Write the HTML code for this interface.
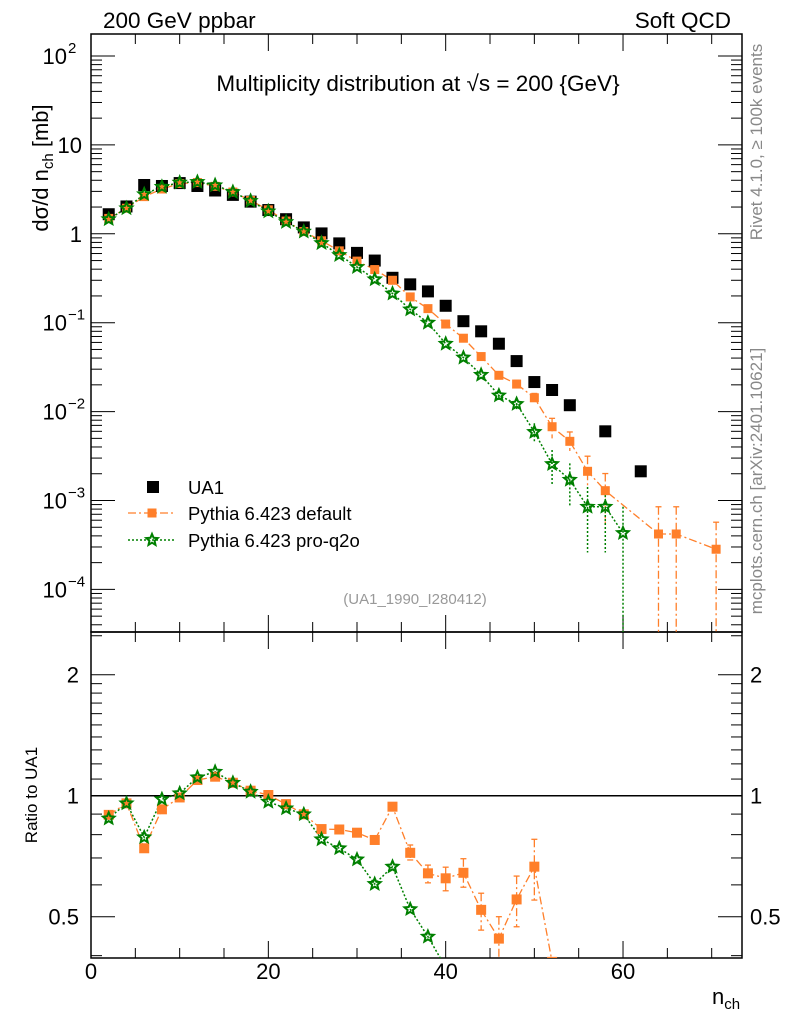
<!DOCTYPE html>
<html><head><meta charset="utf-8"><style>
body{margin:0;background:#fff;}
svg{display:block;font-family:"Liberation Sans",sans-serif;}
</style></head><body>
<svg id="c" width="786" height="1024" xmlns="http://www.w3.org/2000/svg"></svg>
<script>
const nUA1=[2,4,6,8,10,12,14,16,18,20,22,24,26,28,30,32,34,36,38,40,42,44,46,48,50,52,54,58,62];
const vUA1=[1.66,2.03,3.54,3.45,3.72,3.45,3.07,2.74,2.30,1.85,1.46,1.18,1.01,0.78,0.61,0.50,0.32,0.27,0.225,0.155,0.104,0.080,0.058,0.037,0.0215,0.0175,0.0118,0.0060,0.00213];
const nDef=[2,4,6,8,10,12,14,16,18,20,22,24,26,28,30,32,34,36,38,40,42,44,46,48,50,52,54,56,58,64,66,70.5];
const vDef=[1.49,1.94,2.62,3.19,3.68,3.77,3.42,2.95,2.37,1.86,1.39,1.06,0.834,0.643,0.493,0.396,0.30,0.195,0.144,0.0966,0.0669,0.0416,0.0256,0.0204,0.0143,0.00676,0.00463,0.00213,0.00129,0.00042,0.00042,0.000283];
const hiDef=[0,0,0,0,0,0,0,0,0,0,0,0,0,0,0,0,0,0,0,0,0,0,0.028,0.0225,0.016,0.0084,0.0059,0.00315,0.00201,0.00085,0.00085,0.00057];
const loDef=[0,0,0,0,0,0,0,0,0,0,0,0,0,0,0,0,0,0,0,0,0,0,0.0232,0.018,0.0126,0.0050,0.0036,0.00142,0.00053,0.00001,0.00001,0.00001];
const nPro=[2,4,6,8,10,12,14,16,18,20,22,24,26,28,30,32,34,36,38,40,42,44,46,48,50,52,54,56,58,60];
const vPro=[1.46,1.94,2.79,3.38,3.77,3.83,3.52,2.95,2.35,1.79,1.36,1.06,0.787,0.577,0.423,0.308,0.213,0.141,0.100,0.058,0.0405,0.0259,0.0152,0.0122,0.0059,0.00257,0.00171,0.00085,0.00085,0.00043];
const hiPro=[0,0,0,0,0,0,0,0,0,0,0,0,0,0,0,0,0,0,0,0,0,0,0.017,0.0138,0.0074,0.0037,0.00262,0.00142,0.00142,0.00085];
const loPro=[0,0,0,0,0,0,0,0,0,0,0,0,0,0,0,0,0,0,0,0,0,0,0.0135,0.0106,0.0044,0.0015,0.00085,0.00026,0.00026,0.00001];
const nRDef=[2,4,6,8,10,12,14,16,18,20,22,24,26,28,30,32,34,36,38,40,42,44,46,48,50,52];
const rDef=[0.896,0.957,0.74,0.925,0.99,1.094,1.115,1.077,1.029,1.004,0.953,0.899,0.826,0.824,0.809,0.776,0.939,0.721,0.641,0.623,0.643,0.52,0.441,0.552,0.666,0.386];
const rDefHi=[0,0,0,0,0,0,0,0,0,0,0,0,0,0,0,0,0.96,0.754,0.672,0.664,0.697,0.572,0.50,0.631,0.779,0];
const rDefLo=[0,0,0,0,0,0,0,0,0,0,0,0,0,0,0,0,0.92,0.692,0.607,0.580,0.592,0.463,0.39,0.472,0.55,0];
const nRPro=[2,4,6,8,10,12,14,16,18,20,22,24,26,28,30,32,34,36,38,40];
const rPro=[0.878,0.957,0.788,0.98,1.014,1.111,1.147,1.077,1.023,0.966,0.93,0.899,0.779,0.74,0.694,0.603,0.666,0.522,0.446,0.374];
const xTicksMajor=[0,20,40,60];
const yMainLabels=[["10","2"],["10",""],["1",""],["10","−1"],["10","−2"],["10","−3"],["10","−4"]];
const yMainExp=[2,1,0,-1,-2,-3,-4];

const S=document.getElementById('c');const NS="http://www.w3.org/2000/svg";
function el(t,a,p){const e=document.createElementNS(NS,t);for(const k in a)e.setAttribute(k,a[k]);(p||S).appendChild(e);return e;}
const L=91,R=742,T=34,MB=632,RB=958;
const X=n=>L+n*8.867;
const Y=v=>233.8-88.9*Math.log10(v);
const YR=r=>795.7-121*Math.log2(r);

const defs=el('defs',{});
const c1=el('clipPath',{id:'cm'},defs);el('rect',{x:L,y:T,width:R-L,height:MB-T},c1);
const c2=el('clipPath',{id:'cr'},defs);el('rect',{x:L,y:MB,width:R-L,height:RB-MB},c2);

let f=el('rect',{x:L,y:T,width:R-L,height:MB-T,fill:'none',stroke:'#000','stroke-width':1.5});

f=el('rect',{x:L,y:MB,width:R-L,height:RB-MB,fill:'none',stroke:'#000','stroke-width':1.5});


const gx=el('g',{stroke:'#000','stroke-width':1});

for(let n=0;n<=73;n+=5){const maj=n%20==0;const len=maj?17:10;
 for(const yb of [T,MB]) el('line',{x1:X(n),x2:X(n),y1:yb,y2:yb+len},gx);
 for(const yb of [MB,RB]) el('line',{x1:X(n),x2:X(n),y1:yb,y2:yb-len},gx);}
xTicksMajor.forEach(n=>{const t=el('text',{x:X(n),y:979,'font-size':22,'text-anchor':'middle'});t.textContent=n;
 });
const gy=el('g',{stroke:'#000','stroke-width':1});

for(let e=-5;e<=2;e++){for(let m=1;m<10;m++){const v=m*Math.pow(10,e);const y=Y(v);if(y<T||y>MB)continue;const len=m==1?24:11;
 el('line',{x1:L,x2:L+len,y1:y,y2:y},gy);el('line',{x1:R,x2:R-len,y1:y,y2:y},gy);}}
yMainExp.forEach((e,i)=>{const y=Y(Math.pow(10,e));const t=el('text',{x:e==0||e==1?82:67,y:y+8,'font-size':22,'text-anchor':'end'});
 
 t.textContent=yMainLabels[i][0];
 if(!(e==0||e==1)){const s=el('text',{x:68,y:y-3,'font-size':15,'text-anchor':'start'});s.textContent=yMainLabels[i][1];
 }});
const rt=[0.4,0.5,0.6,0.7,0.8,0.9,1,1.1,1.2,1.3,1.4,1.5,1.6,1.7,1.8,1.9,2,2.5];
rt.forEach(r=>{const y=YR(r);if(y<MB||y>RB)return;const maj=(r==0.5||r==1||r==2);const len=maj?24:11;
 el('line',{x1:L,x2:L+len,y1:y,y2:y},gy);el('line',{x1:R,x2:R-len,y1:y,y2:y},gy);
 if(maj){for(const [xx,an] of [[79,'end'],[750,'start']]){const t=el('text',{x:xx,y:y+8,'font-size':22,'text-anchor':an});t.textContent=String(r);
 }}});
let ul=el('line',{x1:L,x2:R,y1:YR(1),y2:YR(1),stroke:'#000','stroke-width':1.5});


function txt(s,a,name){const t=el('text',a);t.textContent=s;return t;}
txt('200 GeV ppbar',{x:103,y:28,'font-size':22.5},'top-left-label');
txt('Soft QCD',{x:731,y:28,'font-size':22.5,'text-anchor':'end'},'top-right-label');
txt('Multiplicity distribution at √s = 200 {GeV}',{x:418,y:91,'font-size':22.5,'text-anchor':'middle'},'plot-title');
const yl=txt('',{transform:'translate(48,168) rotate(-90)','font-size':22,'text-anchor':'middle'},'y-axis-title');
yl.innerHTML='dσ/d n<tspan font-size="15" dy="5">ch</tspan><tspan dy="-5"> [mb]</tspan>';
txt('Ratio to UA1',{transform:'translate(37,795) rotate(-90)','font-size':17,'text-anchor':'middle'},'ratio-axis-title');
const xl=txt('',{x:712,y:1004,'font-size':22},'x-axis-title');xl.innerHTML='n<tspan font-size="15" dy="5">ch</tspan>';
txt('Rivet 4.1.0, ≥ 100k events',{transform:'translate(762,142) rotate(-90)','font-size':17,fill:'#888','text-anchor':'middle'},'rivet-version-note');
txt('mcplots.cern.ch [arXiv:2401.10621]',{transform:'translate(762,481) rotate(-90)','font-size':17,fill:'#888','text-anchor':'middle'},'mcplots-note');
txt('(UA1_1990_I280412)',{x:415,y:604,'font-size':15,fill:'#999','text-anchor':'middle'},'analysis-id');

function star(cx,cy,r,g,name){const p=[];for(let i=0;i<10;i++){const a=-Math.PI/2+i*Math.PI/5;const rr=i%2?r*0.45:r;p.push((cx+rr*Math.cos(a)).toFixed(1)+','+(cy+rr*Math.sin(a)).toFixed(1));}
 const s=el('polygon',{points:p.join(' '),fill:'none',stroke:'#008000','stroke-width':2},g);}
function sq(cx,cy,h,fill,g,name){const s=el('rect',{x:cx-h,y:cy-h,width:2*h,height:2*h,fill:fill},g);}

const gm=el('g',{'clip-path':'url(#cm)'});
let pd=el('polyline',{points:nDef.map((n,i)=>X(n)+','+Y(vDef[i])).join(' '),fill:'none',stroke:'#ff7f2a','stroke-width':1.3,'stroke-dasharray':'8,3,2,3'},gm);

let pp=el('polyline',{points:nPro.map((n,i)=>X(n)+','+Y(vPro[i])).join(' '),fill:'none',stroke:'#008000','stroke-width':1.5,'stroke-dasharray':'2,2'},gm);

nDef.forEach((n,i)=>{if(hiDef[i]){const e=el('line',{x1:X(n),x2:X(n),y1:Y(hiDef[i]),y2:Y(loDef[i]),stroke:'#ff7f2a','stroke-width':1.3,'stroke-dasharray':'8,3,2,3'},gm);
 
 el('line',{x1:X(n)-3,x2:X(n)+3,y1:Y(hiDef[i]),y2:Y(hiDef[i]),stroke:'#ff7f2a','stroke-width':1.3},gm);}});
nPro.forEach((n,i)=>{if(hiPro[i]){const e=el('line',{x1:X(n),x2:X(n),y1:Y(hiPro[i]),y2:Y(loPro[i]),stroke:'#008000','stroke-width':1.5,'stroke-dasharray':'2,2'},gm);
 }});
nUA1.forEach((n,i)=>sq(X(n),Y(vUA1[i]),6,'#000',gm,'ua1-point'));
nDef.forEach((n,i)=>sq(X(n),Y(vDef[i]),4.5,'#ff7f2a',gm,'default-point'));
nPro.forEach((n,i)=>star(X(n),Y(vPro[i]),6,gm,'proq2o-point'));

const gr=el('g',{'clip-path':'url(#cr)'});
let rd=el('polyline',{points:nRDef.map((n,i)=>X(n)+','+YR(rDef[i])).join(' '),fill:'none',stroke:'#ff7f2a','stroke-width':1.3,'stroke-dasharray':'8,3,2,3'},gr);

let rp=el('polyline',{points:nRPro.map((n,i)=>X(n)+','+YR(rPro[i])).join(' '),fill:'none',stroke:'#008000','stroke-width':1.5,'stroke-dasharray':'2,2'},gr);

nRDef.forEach((n,i)=>{if(rDefHi[i]){const e=el('line',{x1:X(n),x2:X(n),y1:YR(rDefHi[i]),y2:YR(rDefLo[i]),stroke:'#ff7f2a','stroke-width':1.3,'stroke-dasharray':'8,3,2,3'},gr);
 
 el('line',{x1:X(n)-3,x2:X(n)+3,y1:YR(rDefHi[i]),y2:YR(rDefHi[i]),stroke:'#ff7f2a','stroke-width':1.3},gr);
 el('line',{x1:X(n)-3,x2:X(n)+3,y1:YR(rDefLo[i]),y2:YR(rDefLo[i]),stroke:'#ff7f2a','stroke-width':1.3},gr);}});
nRDef.forEach((n,i)=>sq(X(n),YR(rDef[i]),5,'#ff7f2a',gr,'ratio-default-point'));
nRPro.forEach((n,i)=>star(X(n),YR(rPro[i]),6,gr,'ratio-proq2o-point'));

const lg=el('g',{});
sq(153,487,6,'#000',lg,'legend-ua1-marker');
txt('UA1',{x:188,y:494,'font-size':18.5},'legend-ua1-label');
let l1=el('line',{x1:128,x2:175,y1:513,y2:513,stroke:'#ff7f2a','stroke-width':1.3,'stroke-dasharray':'8,3,2,3'},lg);

sq(152,513,4.5,'#ff7f2a',lg,'legend-default-marker');
txt('Pythia 6.423 default',{x:188,y:520,'font-size':18.5},'legend-default-label');
let l2=el('line',{x1:128,x2:175,y1:540,y2:540,stroke:'#008000','stroke-width':1.5,'stroke-dasharray':'2,2'},lg);

star(152,540,6,lg,'legend-proq2o-marker');
txt('Pythia 6.423 pro-q2o',{x:188,y:547,'font-size':18.5},'legend-proq2o-label');
</script>
</body></html>
